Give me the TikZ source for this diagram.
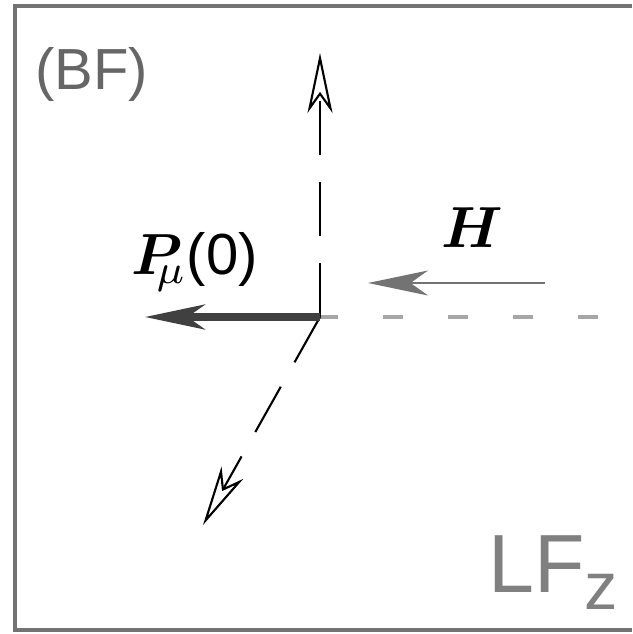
\documentclass[tikz,border=0pt]{standalone}
\usepackage{amsmath, amssymb}
\usepackage{bm}
\usepackage{fontspec}
\setsansfont{Liberation Sans}
\usetikzlibrary{arrows.meta}

\tikzset{
  axisline/.style={black, line width=1.2pt, -{Stealth[open, length=1.2cm, width=0.5cm, inset=0.35cm]}},
  pvec/.style={black!75, line width=4pt, -{Stealth[length=1.2cm, width=0.5cm, inset=0.35cm]}},
  hvec/.style={black!55, line width=1.5pt, -{Stealth[length=1.2cm, width=0.5cm, inset=0.35cm]}},
}

\begin{document}
\begin{tikzpicture}[x=0.02cm, y=-0.02cm]
        \useasboundingbox (0,0) rectangle (632,634);
        % 枠
        \draw[black!55, line width=2pt] (632,6) -- (15,6) -- (15,630) -- (632,630);
        % 原点
        \coordinate (O) at (320,317);
        \coordinate (Ztip) at (320,53);
        \coordinate (Xtip) at (203,525);
        \coordinate (Ptip) at (145,317);
        \coordinate (Rend) at (632,317);
        \coordinate (Hstart) at (545,283);
        \coordinate (Htip) at (368,283);
        % 水平線（灰）
        \draw[black!35, line width=2.5pt, dash pattern=on 0.4cm off 0.9cm, dash phase=0.04cm] (O) -- (Rend);
        % 軸
        \draw[axisline, dash pattern=on 1.08cm off 0.54cm] (O) -- (Ztip);
        \draw[axisline, dash pattern=on 1.04cm off 0.56cm] (O) -- (Xtip);
        % ベクトル
        \draw[pvec] (O) -- (Ptip);
        \draw[hvec] (Hstart) -- (Htip);
        % ラベル
        \node[scale=3.3, anchor=base west, inner sep=0pt] (plabel) at (130,275) {$\bm{P}\rlap{$\kern-0.45em_{\mu}$}$\kern0.08em\textsf{(0)}};
        \node[scale=3.3] (hlabel) at (472,228) {$\bm{H}$};
        \node[font=\sffamily\fontsize{33}{40}\selectfont, text=black!60, anchor=base west, inner sep=0pt] (bf) at (35,90) {(BF)};
        \node[font=\sffamily\fontsize{47}{56}\selectfont, text=black!50, anchor=base west, inner sep=0pt] (lf) at (488,592) {LF\raisebox{-10pt}{\fontsize{38}{40}\selectfont z}};
      \end{tikzpicture}
\end{document}
